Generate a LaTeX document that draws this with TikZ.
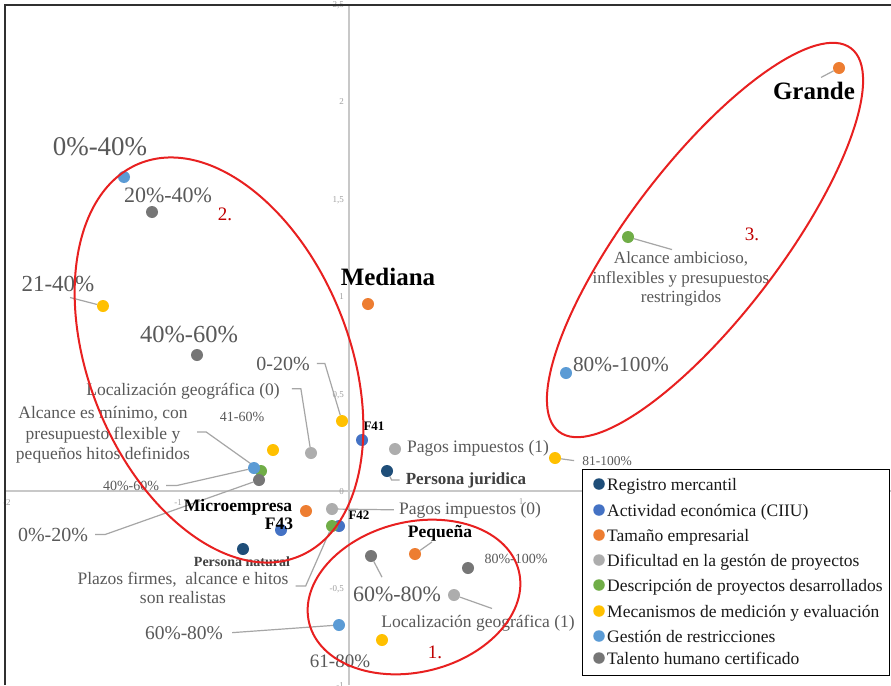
\documentclass[tikz,border=0pt]{standalone}
\usepackage{fontspec}
\setmainfont{Liberation Serif}

% series colours
\definecolor{regcol}{HTML}{1F4E79}
\definecolor{actcol}{HTML}{4472C4}
\definecolor{tamcol}{HTML}{ED7D31}
\definecolor{difcol}{HTML}{ADADAD}
\definecolor{descol}{HTML}{70AD47}
\definecolor{meccol}{HTML}{FFC000}
\definecolor{gescol}{HTML}{5B9BD5}
\definecolor{talcol}{HTML}{767676}
% text and line colours
\definecolor{labgray}{HTML}{595959}
\definecolor{darklab}{HTML}{404040}
\definecolor{leadgray}{HTML}{A6A6A6}
\definecolor{axisgray}{HTML}{C8C8C8}
\definecolor{tickgray}{HTML}{A0A0A0}
\definecolor{ringred}{HTML}{E82020}
\definecolor{numred}{HTML}{C00000}
\definecolor{framecol}{HTML}{303030}
\definecolor{legtext}{HTML}{1A1A1A}

\newcommand{\fsz}[2]{\fontsize{#1pt}{#2pt}\selectfont}

\pgfdeclarelayer{back}
\pgfdeclarelayer{leaders}
\pgfsetlayers{back,leaders,main}

\tikzset{
  lbl/.style={text=labgray, inner sep=0pt, anchor=base},
  blbl/.style={text=black, inner sep=0pt, anchor=base},
  mlbl/.style={text=labgray, inner sep=0pt, align=center, font=\fsz{17.5}{20.5}},
  leader/.style={draw=leadgray, line width=1.2pt},
  datadot/.style={circle, fill=#1, minimum size=12pt, inner sep=0pt},
  keydot/.style={circle, fill=#1, minimum size=11.5pt, inner sep=0pt},
  ring/.style={draw=ringred, line width=2pt},
  ticklbl/.style={text=tickgray, inner sep=0pt, font=\fsz{9}{11}},
  numlbl/.style={text=numred, inner sep=0pt, anchor=base, font=\fsz{19}{22}},
  legtxt/.style={text=legtext, inner sep=0pt, anchor=base west, font=\fsz{17.5}{20}},
  axisline/.style={draw=axisgray, line width=1.3pt},
}

\begin{document}
\begin{tikzpicture}[x=1pt,y=-1pt]
\useasboundingbox (0,0) rectangle (891,685);
\clip (0,0) rectangle (891,685);

\begin{pgfonlayer}{back}
  \fill[white] (0,0) rectangle (891,685);
  % axes
  \draw[axisline] (349,5) -- (349,685);
  \draw[axisline] (5,491) -- (891,491);
  % tick labels
  \node[ticklbl, anchor=east] (ty1) at (344,5) {2,5};
  \node[ticklbl, anchor=east] (ty2) at (344,102) {2};
  \node[ticklbl, anchor=east] (ty3) at (344,200) {1,5};
  \node[ticklbl, anchor=east] (ty4) at (344,297) {1};
  \node[ticklbl, anchor=east] (ty5) at (344,395) {0,5};
  \node[ticklbl, anchor=east] (ty6) at (344,492) {0};
  \node[ticklbl, anchor=east] (ty7) at (344,589) {-0,5};
  \node[ticklbl, anchor=east] (ty8) at (344,686) {-1};
  \node[ticklbl] (tx1) at (7,503) {-2};
  \node[ticklbl] (tx2) at (178,503) {-1};
  \node[ticklbl] (tx3) at (521,502) {1};
  % plot frame
  \draw[draw=framecol, line width=2pt] (5,685) -- (5,5) -- (891,5);
\end{pgfonlayer}

% data points, in series order
\node[datadot=regcol] (rPJ) at (387,471) {};
\node[datadot=regcol] (rPN) at (243,549) {};

\node[datadot=actcol] (aF41) at (362,440) {};
\node[datadot=actcol] (aF43) at (281,530) {};
\node[datadot=actcol] (aF42) at (339,526) {};

\node[datadot=tamcol] (oMicro) at (306,511) {};
\node[datadot=tamcol] (oPeq) at (415,554) {};
\node[datadot=tamcol] (oMed) at (368,304) {};
\node[datadot=tamcol] (oGrande) at (839,68) {};

\node[datadot=difcol] (dP1) at (395,449) {};
\node[datadot=difcol] (dL0) at (311,453) {};
\node[datadot=difcol] (dP0) at (332,509) {};
\node[datadot=difcol] (dL1) at (454,595) {};

\node[datadot=descol] (sI) at (261,471) {};
\node[datadot=descol] (sPlazos) at (332,526) {};
\node[datadot=descol] (sQ) at (628,237) {};

\node[datadot=meccol] (mC) at (103,306) {};
\node[datadot=meccol] (mE) at (342,421) {};
\node[datadot=meccol] (mG) at (273,450) {};
\node[datadot=meccol] (mN) at (382,640) {};
\node[datadot=meccol] (mO) at (555,458) {};

\node[datadot=gescol] (gA) at (124,177) {};
\node[datadot=gescol] (gH) at (254,468) {};
\node[datadot=gescol] (gM) at (339,625) {};
\node[datadot=gescol] (gP) at (566,373) {};

\node[datadot=talcol] (tB) at (152,212) {};
\node[datadot=talcol] (tD) at (197,355) {};
\node[datadot=talcol] (tJ) at (259,480) {};
\node[datadot=talcol] (tK) at (371,556) {};
\node[datadot=talcol] (tL) at (468,568) {};

% point labels
\node[lbl, font=\fsz{27}{32}] (l0040) at (100,155) {0\%-40\%};
\node[lbl, font=\fsz{22}{26}] (l2040) at (168,202) {20\%-40\%};
\node[lbl, font=\fsz{23}{27}] (l2140) at (58,291) {21-40\%};
\node[lbl, font=\fsz{24.5}{29}] (l4060b) at (189,342) {40\%-60\%};
\node[lbl, font=\fsz{20}{24}] (l020) at (283,370) {0-20\%};
\node[lbl, font=\fsz{17.5}{20}] (lL0) at (183,395) {Localización geográfica (0)};
\node[mlbl] (lAlc) at (103,435) {Alcance es mínimo, con\\presupuesto flexible y\\pequeños hitos definidos};
\node[lbl, font=\fsz{14}{17}] (l4160) at (242,421) {41-60\%};
\node[lbl, font=\fsz{14}{17}] (l4060s) at (131,490) {40\%-60\%};
\node[lbl, font=\fsz{20}{24}] (l020b) at (53,541) {0\%-20\%};
\node[blbl, font=\fsz{17.5}{20}\bfseries] (lMicro) at (238,511) {Microempresa};
\node[blbl, font=\fsz{17.5}{20}\bfseries] (lF43) at (279,529) {F43};
\node[blbl, font=\fsz{13}{16}\bfseries] (lF42) at (359,519) {F42};
\node[blbl, font=\fsz{13}{16}\bfseries] (lF41) at (374,430) {F41};
\node[blbl, text=darklab, font=\fsz{14}{17}\bfseries] (lPN) at (242,566) {Persona natural};
\node[mlbl, font=\fsz{17.5}{19.5}] (lPlazos) at (183,588) {Plazos firmes,\ \ alcance e hitos\\son realistas};
\node[lbl, font=\fsz{17.5}{20}] (lP0) at (470,514) {Pagos impuestos (0)};
\node[lbl, font=\fsz{17.5}{20}] (lP1) at (478,452) {Pagos impuestos (1)};
\node[blbl, text=darklab, font=\fsz{17}{20}\bfseries] (lPJ) at (466,484) {Persona juridica};
\node[blbl, font=\fsz{17.5}{20}\bfseries] (lPeq) at (440,537) {Pequeña};
\node[lbl, font=\fsz{14}{17}] (l80100s) at (516,563) {80\%-100\%};
\node[lbl, font=\fsz{22}{26}] (l6080t) at (397,601) {60\%-80\%};
\node[lbl, font=\fsz{17.5}{20}] (lL1) at (478,627) {Localización geográfica (1)};
\node[lbl, font=\fsz{19.5}{23}] (l6080g) at (184,639) {60\%-80\%};
\node[lbl, font=\fsz{19}{23}] (l6180) at (340,667) {61-80\%};
\node[lbl, font=\fsz{13.5}{16}] (l81100) at (607,465) {81-100\%};
\node[blbl, font=\fsz{25}{30}\bfseries] (lMed) at (388,285) {Mediana};
\node[blbl, font=\fsz{25}{30}\bfseries] (lGrande) at (814,99) {Grande};
\node[mlbl, font=\fsz{17}{19.5}] (lAmb) at (681,279) {Alcance ambicioso,\\inflexibles y presupuestos\\restringidos};
\node[lbl, font=\fsz{21.3}{25}] (l80100g) at (621,371) {80\%-100\%};

% leader lines, kept beneath the points
\begin{pgfonlayer}{leaders}
  \draw[leader] ([xshift=12pt,yshift=-6pt]l2140.south) -- (mC);
  \draw[leader] ([xshift=7pt]l020.east) -- ++(8,0) -- (mE);
  \draw[leader] ([xshift=12pt,yshift=2pt]lL0.east) -- ++(9,0) -- (dL0);
  \draw[leader] ([xshift=7pt,yshift=3pt]lAlc.east) -- ++(9,0) -- (sI);
  \draw[leader] ([xshift=7pt]l4060s.east) -- ++(11,0) -- (gH);
  \draw[leader] ([xshift=7pt]l020b.east) -- ++(10,0) -- (tJ);
  \draw[leader] ([xshift=7pt,yshift=2pt]lPlazos.east) -- ++(10,0) -- (sPlazos);
  \draw[leader] (dP0) -- ([xshift=-5pt]lP0.west);
  \draw[leader] ([xshift=-6pt]lPJ.west) -- ++(-8,0) -- (rPJ);
  \draw[leader] ([xshift=-8pt,yshift=-1pt]lPeq.south) -- (oPeq);
  \draw[leader] ([xshift=-15pt,yshift=9pt]l6080t.north) -- (tK);
  \draw[leader] ([xshift=14pt,yshift=6pt]lL1.north) -- (dL1);
  \draw[leader] ([xshift=9pt]l6080g.east) -- (gM);
  \draw[leader] (mO) -- ([xshift=-8pt]l81100.west);
  \draw[leader] ([xshift=7pt,yshift=4pt]lGrande.north) -- (oGrande);
  \draw[leader] ([xshift=-9pt,yshift=2pt]lAmb.north) -- (sQ);
\end{pgfonlayer}

% groups
\node[numlbl] (n1) at (435,658) {1.};
\node[numlbl] (n2) at (225,220) {2.};
\node[numlbl] (n3) at (752,240) {3.};
\draw[ring, rotate around={14:(414,597)}] (414,597) ellipse [x radius=108pt, y radius=75pt];
\draw[ring, rotate around={22:(219,360)}] (219,360) ellipse [x radius=130pt, y radius=212pt];
\draw[ring, rotate around={52.7:(705,240)}] (705,240) ellipse [x radius=241pt, y radius=76pt];

% legend
\node[draw=black, line width=1.2pt, fill=white, anchor=north west, minimum width=307pt,
      minimum height=206pt, inner sep=0pt] (legend) at (582,469) {};
\node[keydot=regcol] (k1) at (599,484) {};
\node[legtxt] (e1) at (607,490) {Registro mercantil};
\node[keydot=actcol] (k2) at (599,510) {};
\node[legtxt] (e2) at (607,516) {Actividad económica (CIIU)};
\node[keydot=tamcol] (k3) at (599,535) {};
\node[legtxt] (e3) at (607,541) {Tamaño empresarial};
\node[keydot=difcol] (k4) at (599,560) {};
\node[legtxt] (e4) at (607,566) {Dificultad en la gestón de proyectos};
\node[keydot=descol] (k5) at (599,585) {};
\node[legtxt] (e5) at (607,591) {Descripción de proyectos desarrollados};
\node[keydot=meccol] (k6) at (599,611) {};
\node[legtxt] (e6) at (607,617) {Mecanismos de medición y evaluación};
\node[keydot=gescol] (k7) at (599,636) {};
\node[legtxt] (e7) at (607,642) {Gestión de restricciones};
\node[keydot=talcol] (k8) at (599,658) {};
\node[legtxt] (e8) at (607,664) {Talento humano certificado};
\end{tikzpicture}
\end{document}
